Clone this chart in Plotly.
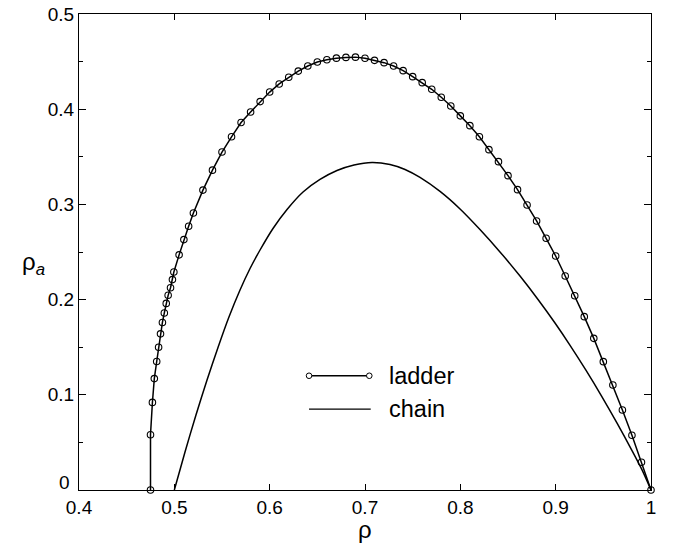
import plotly.graph_objects as go

# ---- data ----
rho_ladder = [0.475, 0.475, 0.477, 0.479, 0.4815, 0.4835, 0.4855, 0.4875, 0.4895, 0.4915,
              0.4935, 0.496, 0.498, 0.4995, 0.505, 0.51, 0.515, 0.52, 0.53, 0.54,
              0.55, 0.56, 0.57, 0.58, 0.59, 0.60, 0.61, 0.62, 0.63, 0.64,
              0.65, 0.66, 0.67, 0.68, 0.69, 0.70, 0.71, 0.72, 0.73, 0.74,
              0.75, 0.76, 0.77, 0.78, 0.79, 0.80, 0.81, 0.82, 0.83, 0.84,
              0.85, 0.86, 0.87, 0.88, 0.89, 0.90, 0.91, 0.92, 0.93, 0.94,
              0.95, 0.96, 0.97, 0.98, 0.99, 1.00]
rhoa_ladder = [0.0, 0.058, 0.092, 0.117, 0.135, 0.150, 0.164, 0.176, 0.186, 0.196,
               0.2045, 0.2125, 0.221, 0.229, 0.247, 0.263, 0.277, 0.291, 0.315, 0.336,
               0.355, 0.371, 0.386, 0.397, 0.408, 0.418, 0.4265, 0.4335, 0.440, 0.4454,
               0.4496, 0.452, 0.4536, 0.4544, 0.4547, 0.4535, 0.4513, 0.4489, 0.4454, 0.4405,
               0.4342, 0.4279, 0.4209, 0.4125, 0.4034, 0.393, 0.3827, 0.3711, 0.3575, 0.3449,
               0.3302, 0.3155, 0.2994, 0.2826, 0.2644, 0.2458, 0.2248, 0.2041, 0.1821, 0.1593,
               0.1348, 0.1103, 0.0840, 0.0575, 0.0291, 0.0]

rho_chain = [0.500, 0.5112, 0.5227, 0.5343, 0.5458, 0.5573, 0.5689, 0.5794, 0.5899, 0.6035,
             0.6182, 0.6350, 0.6528, 0.6706, 0.6885, 0.7074, 0.7262, 0.7420, 0.7577, 0.7787,
             0.7997, 0.8206, 0.8416, 0.8626, 0.8815, 0.8993, 0.9151, 0.9319, 0.9483, 0.9644,
             0.9798, 0.9906, 1.000]
rhoa_chain = [0.0, 0.0399, 0.0788, 0.1155, 0.1497, 0.1817, 0.2101, 0.2327, 0.2521, 0.2747,
              0.2946, 0.3130, 0.3262, 0.3356, 0.3414, 0.3440, 0.3419, 0.3367, 0.3283, 0.3136,
              0.2952, 0.2736, 0.2501, 0.2247, 0.2001, 0.1754, 0.1520, 0.1256, 0.0984, 0.0702,
              0.0419, 0.0211, 0.0]

x_ticks = [0.4, 0.5, 0.6, 0.7, 0.8, 0.9, 1.0]
x_tick_labels = ["0.4", "0.5", "0.6", "0.7", "0.8", "0.9", "1"]
y_ticks = [0, 0.1, 0.2, 0.3, 0.4, 0.5]
y_tick_labels = ["", "0.1", "0.2", "0.3", "0.4", "0.5"]
y_origin_label = "0"

legend_names = ["ladder", "chain"]

FONT = "Liberation Sans, Arial, Helvetica, sans-serif"

fig = go.Figure()
fig.add_trace(go.Scatter(
    x=rho_chain, y=rhoa_chain, mode="lines", name=legend_names[1],
    line=dict(color="black", width=1.5, shape="spline", smoothing=0.8),
    showlegend=False, cliponaxis=False))
fig.add_trace(go.Scatter(
    x=rho_ladder, y=rhoa_ladder, mode="lines+markers", name=legend_names[0],
    line=dict(color="black", width=1.5),
    marker=dict(symbol="circle-open", size=6.5, color="black", line=dict(width=1.1)),
    showlegend=False, cliponaxis=False))

# ---- manual legend (line sample with end markers + label) ----
lx0, lx1, ltx = 0.6413, 0.7045, 0.7231
ly = [0.120, 0.085]
fig.add_shape(type="line", xref="x", yref="y", x0=lx0, x1=lx1, y0=ly[0], y1=ly[0],
              line=dict(color="black", width=1.4))
for xc in (lx0, lx1):
    fig.add_shape(type="circle", xref="x", yref="y", xsizemode="pixel", ysizemode="pixel",
                  xanchor=xc, yanchor=ly[0], x0=-2.8, x1=2.8, y0=-2.8, y1=2.8,
                  line=dict(color="black", width=1), fillcolor="white")
fig.add_shape(type="line", xref="x", yref="y", x0=lx0, x1=lx1 + 0.0015, y0=ly[1], y1=ly[1],
              line=dict(color="black", width=1.4))
for name, yy in zip(legend_names, ly):
    fig.add_annotation(x=ltx, y=yy, xref="x", yref="y", text=name, showarrow=False,
                       xanchor="left", yanchor="middle", font=dict(size=23.5, family=FONT, color="black"))

# ---- origin label of the y axis (raised slightly, as in the reference) ----
fig.add_annotation(x=0, y=0, xref="paper", yref="y", text=y_origin_label, showarrow=False,
                   xanchor="right", yanchor="bottom", xshift=-7, yshift=-5,
                   font=dict(size=19, family=FONT, color="black"))

# ---- axis titles ----
fig.add_annotation(x=0.5, y=-0.084, xref="paper", yref="paper", text="ρ", showarrow=False,
                   xanchor="center", yanchor="middle", font=dict(size=24, family=FONT, color="black"))
fig.add_annotation(x=-0.080, y=0.475, xref="paper", yref="paper", text="ρ<sub><i>a</i></sub>",
                   showarrow=False, xanchor="center", yanchor="middle",
                   font=dict(size=24, family=FONT, color="black"))

fig.update_layout(
    width=673, height=550,
    margin=dict(l=79, r=22, t=14, b=60, autoexpand=False),
    paper_bgcolor="white", plot_bgcolor="white",
    font=dict(family=FONT, size=19, color="black"),
    xaxis=dict(range=[0.4, 1.0], tickvals=x_ticks, ticktext=x_tick_labels,
               ticks="inside", ticklen=6, tickwidth=1, tickcolor="black",
               showline=True, linecolor="black", linewidth=1, mirror="ticks",
               showgrid=False, zeroline=False, automargin=False),
    yaxis=dict(range=[0, 0.5], tickvals=y_ticks, ticktext=y_tick_labels,
               ticks="inside", ticklen=7, tickwidth=1, tickcolor="black",
               showline=True, linecolor="black", linewidth=1, mirror="ticks",
               showgrid=False, zeroline=False, automargin=False, ticklabelstandoff=0,
               minor=dict(dtick=0.05, tick0=0, ticks="inside", ticklen=4,
                          tickcolor="black", tickwidth=1, showgrid=False)),
)

fig.write_html("out.html", config={"displayModeBar": False},
               post_script="document.body.style.margin='0px';")
